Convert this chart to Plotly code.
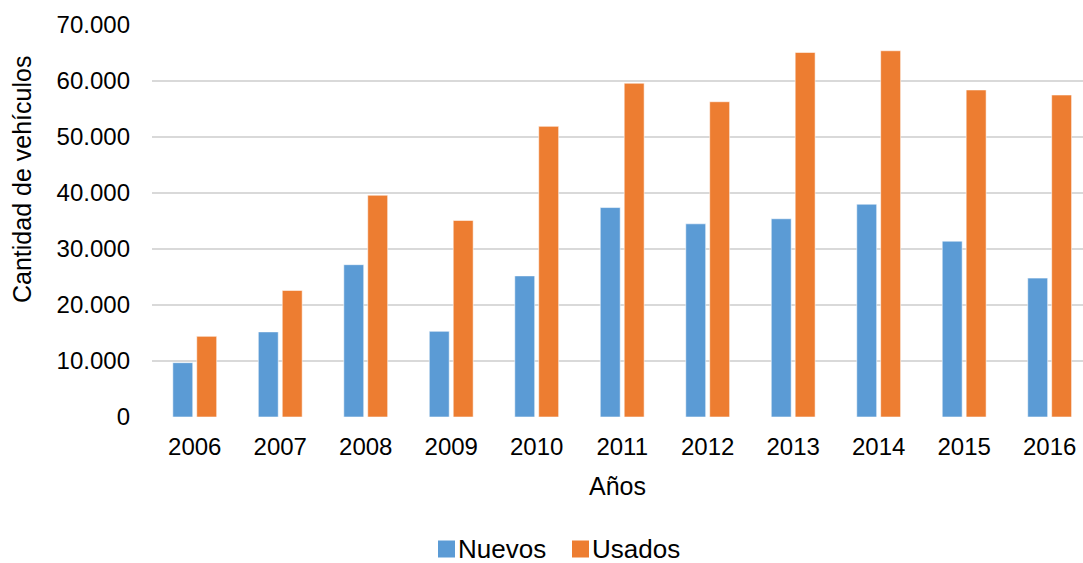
import plotly.graph_objects as go

# Annual vehicle counts, new vs. used
anios = ["2006", "2007", "2008", "2009", "2010", "2011",
         "2012", "2013", "2014", "2015", "2016"]
nuevos = [9700, 15200, 27200, 15300, 25200, 37400,
          34500, 35400, 38000, 31400, 24800]
usados = [14400, 22600, 39600, 35100, 51900, 59600,
          56300, 65100, 65400, 58400, 57500]
y_ticks = [0, 10000, 20000, 30000, 40000, 50000, 60000, 70000]

AZUL = "#5b9bd5"
NARANJA = "#ed7d31"
FONT = "Liberation Sans, Arial, sans-serif"
TXT = "#000000"

# plot area geometry in pixels (used to place the legend and titles)
W, H = 1083, 563
M_L, M_R, M_T, M_B = 152, 0, 25, 146
PW, PH = W - M_L - M_R, H - M_T - M_B


def px_x(px):
    return (px - M_L) / PW


def px_y(py):
    return (H - M_B - py) / PH


x_pos = list(range(len(anios)))

fig = go.Figure()
fig.add_trace(go.Bar(x=x_pos, y=nuevos, name="Nuevos", marker_color=AZUL,
                     marker_line=dict(color="rgba(255,255,255,0.55)", width=1)))
fig.add_trace(go.Bar(x=x_pos, y=usados, name="Usados", marker_color=NARANJA,
                     marker_line=dict(color="rgba(255,255,255,0.55)", width=1)))

fig.update_layout(
    width=W, height=H,
    margin=dict(l=M_L, r=M_R, t=M_T, b=M_B, autoexpand=False),
    paper_bgcolor="white", plot_bgcolor="white",
    barmode="group", bargap=0.44, bargroupgap=0.167,
    separators=",.",
    font=dict(family=FONT, color=TXT, size=24),
    showlegend=False,
)

fig.update_xaxes(
    range=[-0.5, 10.39],
    tickmode="array", tickvals=x_pos, ticktext=anios,
    showgrid=False, zeroline=False, showline=False,
    ticks="", ticklabelstandoff=13,
    tickfont=dict(size=24, family=FONT, color=TXT),
)
fig.update_yaxes(
    range=[0, 70000],
    tickmode="array", tickvals=y_ticks, tickformat=",d",
    showgrid=True, gridcolor="#d9d9d9", gridwidth=1.5,
    zeroline=False, showline=False,
    ticks="", ticklabelstandoff=21,
    tickfont=dict(size=24, family=FONT, color=TXT),
)

# axis titles
fig.add_annotation(text="Cantidad de vehículos", textangle=-90,
                   xref="paper", yref="paper", x=px_x(22), y=px_y(180),
                   xanchor="center", yanchor="middle", showarrow=False,
                   font=dict(size=25, family=FONT, color=TXT))
fig.add_annotation(text="Años",
                   xref="paper", yref="paper", x=px_x(617.5), y=px_y(486),
                   xanchor="center", yanchor="middle", showarrow=False,
                   font=dict(size=25, family=FONT, color=TXT))

# legend: colour swatch followed by series name
legend_items = [("Nuevos", AZUL, 438), ("Usados", NARANJA, 572)]
LEG_Y = 549
for nombre, color, x0 in legend_items:
    fig.add_shape(type="rect", xref="paper", yref="paper",
                  x0=px_x(x0), x1=px_x(x0 + 17),
                  y0=px_y(LEG_Y + 8.5), y1=px_y(LEG_Y - 8.5),
                  fillcolor=color, line=dict(width=0))
    fig.add_annotation(text=nombre, xref="paper", yref="paper",
                       x=px_x(x0 + 19), y=px_y(LEG_Y),
                       xanchor="left", yanchor="middle", showarrow=False,
                       borderpad=0,
                       font=dict(size=26, family=FONT, color=TXT))

fig.write_html("out.html")
